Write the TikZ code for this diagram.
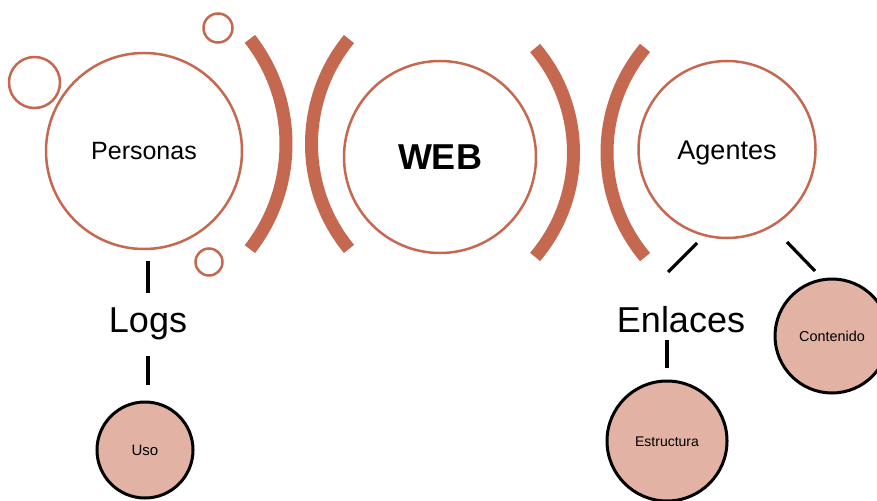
\documentclass[tikz,border=0pt]{standalone}
\usepackage{fontspec}
\setmainfont{Liberation Sans}
\definecolor{rust}{RGB}{197,104,80}
\definecolor{blush}{RGB}{226,178,164}
\tikzset{
  ring/.style={circle, draw=rust, line width=2.5pt, fill=white, inner sep=0pt},
  dot/.style={circle, draw=rust, line width=2.5pt, inner sep=0pt},
  leaf/.style={circle, draw=black, line width=3pt, fill=blush, inner sep=0pt},
  band/.style={draw=rust, line width=13pt},
  conn/.style={draw=black, line width=3.2pt},
  % text box spans the capitals only, so the node centre is the cap middle
  txt/.style 2 args={font=#1\fontsize{#2}{#2}\selectfont, text height=0.716*#2pt, text depth=0pt, inner sep=0pt},
}
\begin{document}
\begin{tikzpicture}[x=1pt, y=-1pt]
\clip (0,0) rectangle (877,500);
\fill[white] (0,0) rectangle (877,500);

% decorative small rings around Personas
\node[dot, minimum size=51pt] (d1) at (34.5,82.5) {};
\node[dot, minimum size=29pt] (d2) at (218,28) {};
\node[dot, minimum size=27pt] (d3) at (209,262) {};

% main rings
\node[ring, minimum size=196pt, txt={}{25}] (pers) at (144,151) {Personas};
\node[ring, minimum size=192pt, txt={\bfseries}{36}] (web) at (440,157) {WEB};
\node[ring, minimum size=177pt, txt={}{27}] (agent) at (727,149.5) {Agentes};

% bracket arcs
\coordinate (c1) at (114.9,144);
\coordinate (c2) at (477.2,144);
\coordinate (c3) at (412.4,152.5);
\coordinate (c4) at (769.7,152.5);
\draw[band] (c1) ++(-37.9:171.1) arc[start angle=-37.9, end angle=37.9, radius=171.1];
\draw[band] (c2) ++(140.7:165.7) arc[start angle=140.7, end angle=219.3, radius=165.7];
\draw[band] (c3) ++(-40.4:161.1) arc[start angle=-40.4, end angle=40.4, radius=161.1];
\draw[band] (c4) ++(140:162.7) arc[start angle=140, end angle=220, radius=162.7];

% labels on the branches
\node[txt={}{36}] (logs) at (148,320) {Logs};
\node[txt={}{36}] (enl) at (681,320) {Enlaces};

% leaf circles
\node[leaf, minimum size=96pt, txt={}{15}] (uso) at (145,450) {Uso};
\node[leaf, minimum size=120pt, txt={}{14}] (est) at (667,441) {Estructura};
\node[leaf, minimum size=114pt, txt={}{14.4}] (cont) at (832,336) {Contenido};

% connectors
\draw[conn, shorten <=11pt, shorten >=14pt] (pers.south -| logs.north) -- (logs.north);
\draw[conn, shorten <=23pt, shorten >=16pt] (logs.south) -- (uso.north -| logs.south);
\draw[conn, shorten <=7pt, shorten >=12pt] (enl.south -| est.north) -- (est.north);

\coordinate (la) at (697,243);
\coordinate (lb) at (668,272);
\coordinate (ra) at (787,242);
\coordinate (rb) at (815,271);
\draw[conn] (la) -- (lb);
\draw[conn] (ra) -- (rb);
\end{tikzpicture}
\end{document}
